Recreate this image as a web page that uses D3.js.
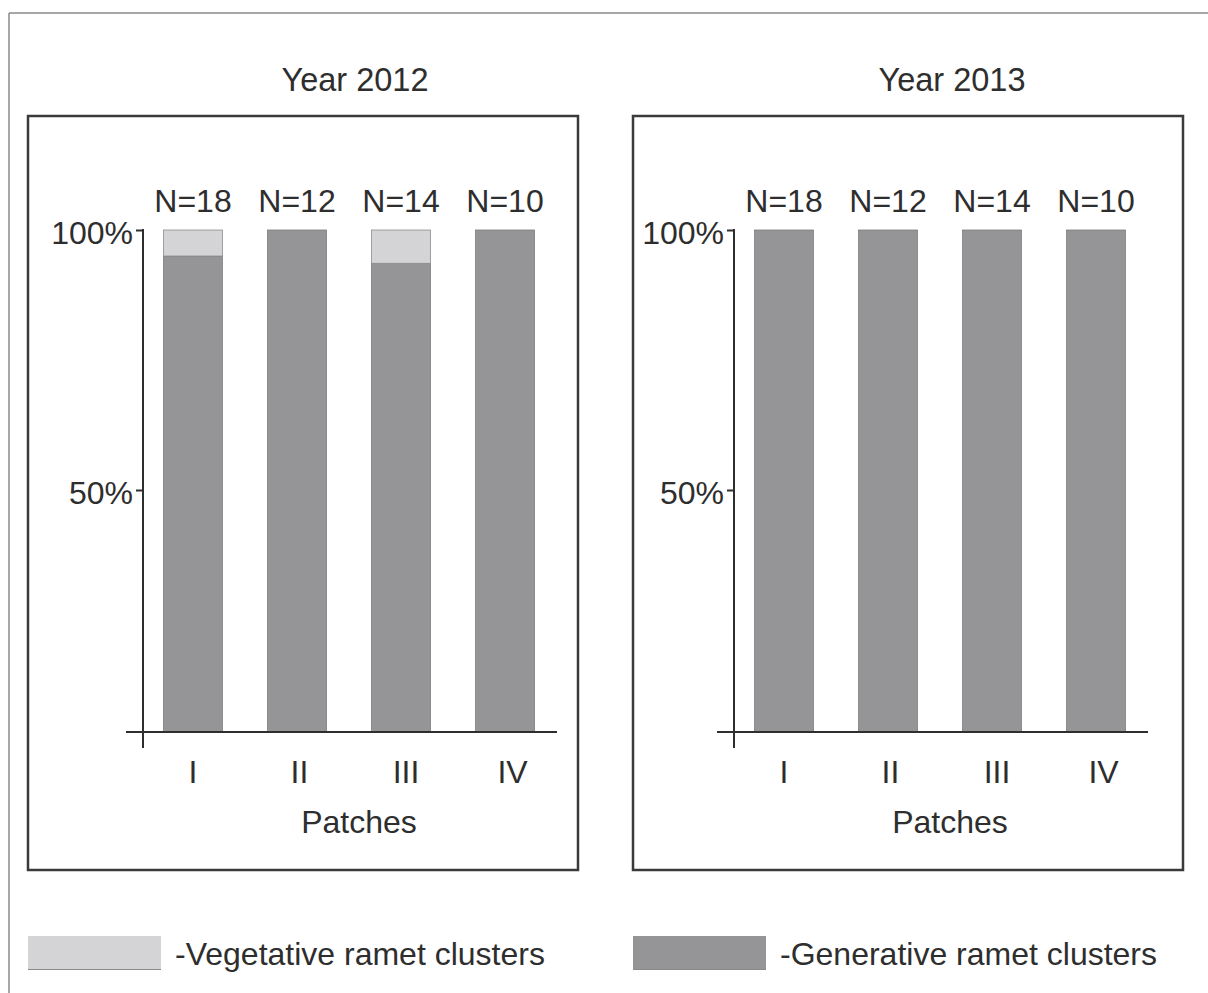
<!DOCTYPE html>
<html>
<head>
<meta charset="utf-8">
<script src="https://cdn.jsdelivr.net/npm/d3@7/dist/d3.min.js"></script>
<style>
  html, body { margin: 0; padding: 0; background: #fff; }
  svg { display: block; }
  text { font-family: "Liberation Sans", Arial, sans-serif; fill: #2e2e2e; }
</style>
</head>
<body>
<script>
// ---- data ----
const patches = ["I", "II", "III", "IV"];
const nLabels = ["N=18", "N=12", "N=14", "N=10"];
const years = ["Year 2012", "Year 2013"];
const generative2012 = [95, 100, 93.6, 100];
const vegetative2012 = [5, 0, 6.4, 0];
const generative2013 = [100, 100, 100, 100];
const vegetative2013 = [0, 0, 0, 0];
const yTickValues = [50, 100];
const legendLabels = ["-Vegetative ramet clusters", "-Generative ramet clusters"];

// ---- style ----
const colVeg = "#d4d4d6";
const colGen = "#959597";
const colText = "#2e2e2e";

const W = 1208, H = 993;
const svg = d3.select("body").append("svg").attr("width", W).attr("height", H);

// outer frame (top and left lines)
svg.append("line").attr("x1", 9).attr("x2", W).attr("y1", 13).attr("y2", 13)
  .attr("stroke", "#8a8a8a").attr("stroke-width", 1.5);
svg.append("line").attr("x1", 9).attr("x2", 9).attr("y1", 13).attr("y2", H)
  .attr("stroke", "#8a8a8a").attr("stroke-width", 1.5);

// panel layout
const panels = [
  { title: years[0], gen: generative2012, veg: vegetative2012, boxX: 28, axisX: 143, titleDx: 212 },
  { title: years[1], gen: generative2013, veg: vegetative2013, boxX: 633, axisX: 734, titleDx: 218 }
];
const boxY = 116, boxW = 550, boxH = 754;
const baselineY = 732;

const y = d3.scaleLinear().domain([0, 100]).range([750, 230]);
const x = d3.scaleBand().domain(patches).range([0, 412]).paddingInner(0.433).paddingOuter(0.197);

panels.forEach(p => {
  // box
  svg.append("rect").attr("x", p.boxX).attr("y", boxY).attr("width", boxW).attr("height", boxH)
    .attr("fill", "none").attr("stroke", "#3a3a3a").attr("stroke-width", 2.5);

  // title
  svg.append("text").attr("x", p.axisX + p.titleDx).attr("y", 91)
    .attr("text-anchor", "middle").attr("font-size", 32.5).text(p.title);

  const g = svg.append("g").attr("transform", `translate(${p.axisX},0)`);

  const rows = patches.map((d, i) => ({ patch: d, n: nLabels[i], gen: p.gen[i], veg: p.veg[i] }));

  // generative bars
  g.selectAll("rect.gen").data(rows).enter().append("rect").attr("class", "gen")
    .attr("x", d => x(d.patch)).attr("width", x.bandwidth())
    .attr("y", d => y(d.gen)).attr("height", d => baselineY - y(d.gen))
    .attr("fill", colGen).attr("stroke", "#7d7d7f").attr("stroke-width", 0.8);

  // vegetative bars
  g.selectAll("rect.veg").data(rows.filter(d => d.veg > 0)).enter().append("rect").attr("class", "veg")
    .attr("x", d => x(d.patch)).attr("width", x.bandwidth())
    .attr("y", d => y(d.gen + d.veg)).attr("height", d => y(d.gen) - y(d.gen + d.veg))
    .attr("fill", colVeg).attr("stroke", "#8d8d8f").attr("stroke-width", 0.8);

  // N labels
  g.selectAll("text.n").data(rows).enter().append("text").attr("class", "n")
    .attr("x", d => x(d.patch) + x.bandwidth() / 2).attr("y", 212)
    .attr("text-anchor", "middle").attr("font-size", 32).text(d => d.n);

  // y axis
  const yAxis = d3.axisLeft(y).tickValues(yTickValues).tickSize(7).tickPadding(3)
    .tickFormat(d => d + "%");
  const ya = g.append("g").call(yAxis);
  ya.select(".domain").remove();
  ya.selectAll(".tick line").attr("stroke", colText).attr("stroke-width", 2);
  ya.selectAll(".tick text").attr("font-size", 32).attr("fill", colText)
    .attr("font-family", "Liberation Sans, Arial, sans-serif").attr("dy", "0.42em");
  g.append("line").attr("x1", 0).attr("x2", 0).attr("y1", y(100) - 1).attr("y2", 748)
    .attr("stroke", colText).attr("stroke-width", 2);

  // x axis
  const xAxis = d3.axisBottom(x).tickSize(0);
  const xa = g.append("g").attr("transform", `translate(0,${baselineY})`).call(xAxis);
  xa.select(".domain").remove();
  xa.selectAll(".tick text").attr("font-size", 32).attr("fill", colText)
    .attr("font-family", "Liberation Sans, Arial, sans-serif").attr("y", 51).attr("dy", 0)
    .attr("dx", (d, i) => i * 2.5);
  g.append("line").attr("x1", -17).attr("x2", 414).attr("y1", baselineY).attr("y2", baselineY)
    .attr("stroke", colText).attr("stroke-width", 2);

  // x axis title
  g.append("text").attr("x", 216).attr("y", 833).attr("text-anchor", "middle")
    .attr("font-size", 32).text("Patches");
});

// legend
const legend = [
  { label: legendLabels[0], color: colVeg, x: 28 },
  { label: legendLabels[1], color: colGen, x: 633 }
];
legend.forEach(l => {
  svg.append("rect").attr("x", l.x).attr("y", 936).attr("width", 133).attr("height", 34)
    .attr("fill", l.color);
  svg.append("line").attr("x1", l.x).attr("x2", l.x + 133).attr("y1", 969.5).attr("y2", 969.5)
    .attr("stroke", "#8a8a8a").attr("stroke-width", 1);
  svg.append("text").attr("x", l.x + 147).attr("y", 965).attr("font-size", 32).text(l.label);
});
</script>
</body>
</html>
